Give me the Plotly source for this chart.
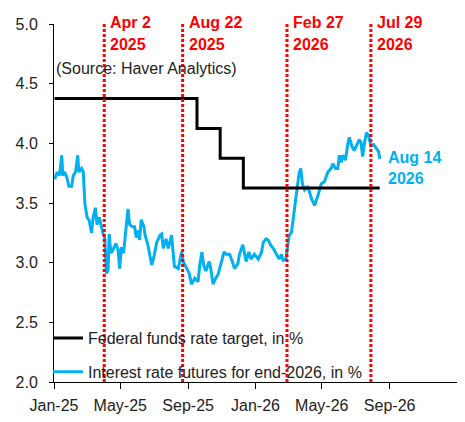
import plotly.graph_objects as go

# Federal funds target (midpoint of range), step series
fed_dates = ["2025-01-02", "2025-09-17", "2025-10-29", "2025-12-10", "2026-08-14"]
fed_rates = [4.375, 4.125, 3.875, 3.625, 3.625]

# Interest rate futures for end-2026
fut_dates = [
    "2025-01-02", "2025-01-07", "2025-01-11", "2025-01-15", "2025-01-17", "2025-01-20",
    "2025-01-24", "2025-01-28", "2025-02-02", "2025-02-05", "2025-02-09", "2025-02-13",
    "2025-02-15", "2025-02-20", "2025-02-23", "2025-02-26", "2025-03-02", "2025-03-06",
    "2025-03-10", "2025-03-13", "2025-03-17", "2025-03-20", "2025-03-24", "2025-03-28",
    "2025-03-31", "2025-04-03", "2025-04-06", "2025-04-09", "2025-04-11", "2025-04-14",
    "2025-04-18", "2025-04-23", "2025-04-27", "2025-04-30", "2025-05-03", "2025-05-07",
    "2025-05-12", "2025-05-15", "2025-05-18", "2025-05-23", "2025-05-27", "2025-05-30",
    "2025-06-02", "2025-06-05", "2025-06-08", "2025-06-13", "2025-06-15", "2025-06-20",
    "2025-06-27", "2025-07-01", "2025-07-06", "2025-07-12", "2025-07-15", "2025-07-18",
    "2025-07-23", "2025-07-27", "2025-08-02", "2025-08-04", "2025-08-07", "2025-08-14",
    "2025-08-20", "2025-08-23", "2025-08-29", "2025-09-03", "2025-09-07", "2025-09-13",
    "2025-09-19", "2025-09-22", "2025-09-26", "2025-09-29", "2025-10-03", "2025-10-09",
    "2025-10-12", "2025-10-16", "2025-10-21", "2025-10-25", "2025-10-28", "2025-11-01",
    "2025-11-05", "2025-11-09", "2025-11-15", "2025-11-20", "2025-11-24", "2025-11-30",
    "2025-12-03", "2025-12-09", "2025-12-12", "2025-12-15", "2025-12-20", "2025-12-24",
    "2025-12-30", "2026-01-06", "2026-01-12", "2026-01-15", "2026-01-20", "2026-01-24",
    "2026-01-28", "2026-02-02", "2026-02-08", "2026-02-13", "2026-02-17", "2026-02-20",
    "2026-02-25", "2026-02-27", "2026-03-03", "2026-03-07", "2026-03-10", "2026-03-13",
    "2026-03-16", "2026-03-18", "2026-03-21", "2026-03-24", "2026-03-27", "2026-03-31",
    "2026-04-06", "2026-04-12", "2026-04-18", "2026-04-24", "2026-04-30", "2026-05-06",
    "2026-05-12", "2026-05-18", "2026-05-21", "2026-05-26", "2026-05-30", "2026-06-02",
    "2026-06-05", "2026-06-08", "2026-06-13", "2026-06-17", "2026-06-20", "2026-06-25",
    "2026-06-29", "2026-07-03", "2026-07-08", "2026-07-11", "2026-07-14", "2026-07-17",
    "2026-07-21", "2026-07-25", "2026-07-29", "2026-08-03", "2026-08-08", "2026-08-12",
    "2026-08-14",
]
fut_values = [
    3.70, 3.76, 3.73, 3.90, 3.73, 3.76,
    3.72, 3.64, 3.64, 3.73, 3.76, 3.90,
    3.76, 3.79, 3.76, 3.49, 3.38, 3.35,
    3.25, 3.38, 3.46, 3.32, 3.38, 3.30,
    3.24, 3.21, 2.91, 2.94, 3.24, 3.08,
    3.11, 3.16, 3.11, 2.95, 3.13, 3.08,
    3.32, 3.45, 3.32, 3.30, 3.30, 3.21,
    3.27, 3.19, 3.36, 3.30, 3.23, 3.15,
    2.98, 3.05, 3.17, 3.23, 3.24, 3.12,
    3.20, 3.12, 3.23, 3.09, 2.97, 2.95,
    3.09, 3.01, 2.95, 2.91, 2.82, 2.87,
    2.84, 2.98, 3.09, 2.98, 2.93, 3.01,
    2.95, 2.82, 2.87, 2.90, 2.95, 3.01,
    3.09, 3.07, 3.07, 3.01, 2.95, 2.99,
    3.07, 3.15, 3.09, 3.01, 3.09, 3.03,
    3.07, 3.03, 3.09, 3.17, 3.20, 3.19,
    3.15, 3.12, 3.07, 3.03, 3.07, 3.02,
    3.03, 3.09, 3.23, 3.25, 3.36, 3.44,
    3.56, 3.64, 3.75, 3.79, 3.66, 3.61,
    3.64, 3.54, 3.48, 3.56, 3.66, 3.68,
    3.76, 3.79, 3.83, 3.79, 3.79, 3.90,
    3.84, 3.90, 3.86, 3.99, 4.05, 3.97,
    3.94, 3.98, 4.03, 4.01, 3.89, 3.99,
    4.09, 4.06, 3.98, 3.99, 3.95, 3.93,
    3.87,
]

# event markers
event_dates = ["2025-04-02", "2025-08-22", "2026-02-27", "2026-07-29"]
event_days = ["Apr 2", "Aug 22", "Feb 27", "Jul 29"]
event_years = ["2025", "2025", "2026", "2026"]

tick_vals = ["2025-01-01", "2025-05-01", "2025-09-01", "2026-01-01",
             "2026-05-01", "2026-09-01", "2027-01-01"]
tick_text = ["Jan-25", "May-25", "Sep-25", "Jan-26", "May-26", "Sep-26", ""]

FONT = "Liberation Sans"
BLUE = "#00B0F0"
RED = "#FF0000"

fig = go.Figure()

fig.add_trace(go.Scatter(
    x=fut_dates, y=fut_values, mode="lines",
    line=dict(color=BLUE, width=3),
    name="Interest rate futures for end-2026, in %",
    legendgroup="b", legendrank=2,
))
fig.add_trace(go.Scatter(
    x=fed_dates, y=fed_rates, mode="lines",
    line=dict(color="black", width=3, shape="hv"),
    name="Federal funds rate target, in %",
    legendgroup="a", legendrank=1,
))

red_font = dict(family=FONT, size=16, color=RED, weight="bold")
for d, day, yr in zip(event_dates, event_days, event_years):
    fig.add_shape(type="line", xref="x", yref="paper", x0=d, x1=d, y0=0, y1=1,
                  line=dict(color=RED, width=3, dash="3px,2px"))
    fig.add_annotation(x=d, xref="x", y=1, yref="paper", text=day,
                       xanchor="left", yanchor="middle", xshift=4, yshift=2,
                       showarrow=False, font=red_font)
    fig.add_annotation(x=d, xref="x", y=1, yref="paper", text=yr,
                       xanchor="left", yanchor="middle", xshift=4, yshift=-20,
                       showarrow=False, font=red_font)

fig.add_annotation(x=fut_dates[-1], xref="x", y=3.79, yref="y",
                   text="Aug 14<br>2026", xanchor="left", yanchor="middle",
                   align="left", xshift=6, showarrow=False,
                   font=dict(family=FONT, size=16, color=BLUE, weight="bold"))

fig.add_annotation(x=0, xref="paper", y=4.63, yref="y",
                   text="(Source: Haver Analytics)", xanchor="left",
                   yanchor="middle", showarrow=False,
                   font=dict(family=FONT, size=16, color="#222222"))

# page body has an 8px margin, so size/margins are set to land the plot where the original sits
fig.update_layout(
    width=457, height=414,
    margin=dict(l=46, r=8, t=9, b=39),
    plot_bgcolor="white", paper_bgcolor="white",
    font=dict(family=FONT, size=16, color="#222222"),
    showlegend=True,
    legend=dict(x=-0.015, y=-0.02, xanchor="left", yanchor="bottom",
                bgcolor="rgba(0,0,0,0)", traceorder="grouped",
                tracegroupgap=10, font=dict(size=16),
                itemwidth=30),
    xaxis=dict(
        type="date", range=["2025-01-01", "2027-01-01"],
        tickvals=tick_vals, ticktext=tick_text,
        showgrid=False, zeroline=False,
        showline=True, linecolor="black", linewidth=1,
        ticks="outside", tickcolor="black", ticklen=6,
        ticklabelstandoff=3, tickfont=dict(size=16),
    ),
    yaxis=dict(
        range=[2.0, 5.0], dtick=0.5, tick0=2.0, tickformat=".1f",
        showgrid=False, zeroline=False,
        showline=True, linecolor="black", linewidth=1,
        ticks="outside", tickcolor="black", ticklen=4,
        ticklabelstandoff=8, tickfont=dict(size=16),
    ),
)

fig.write_html("out.html")
